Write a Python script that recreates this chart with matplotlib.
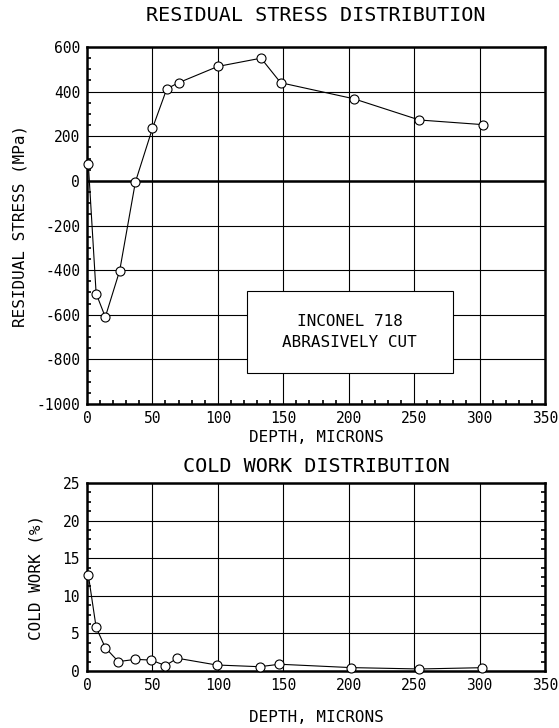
import matplotlib
matplotlib.use("Agg")
import matplotlib.pyplot as plt
from matplotlib.patches import Rectangle
from matplotlib.ticker import AutoMinorLocator

plt.rcParams["axes.unicode_minus"] = False
MONO = ["DejaVu Sans Mono"]

# Residual stress profile (depth in microns, stress in MPa)
stress_depth = [1, 7, 14, 25, 37, 50, 61, 70, 100, 133, 148, 204, 254, 303]
stress_mpa = [78, -505, -610, -402, -5, 235, 413, 440, 513, 550, 440, 368, 273, 252]

# Cold work profile (depth in microns, cold work in %)
cw_depth = [1, 7, 14, 24, 37, 49, 60, 69, 99, 132, 147, 202, 254, 302]
cw_pct = [12.8, 5.8, 3.1, 1.25, 1.55, 1.45, 0.72, 1.7, 0.8, 0.57, 0.9, 0.45, 0.27, 0.44]

x_ticks = [0, 50, 100, 150, 200, 250, 300, 350]
stress_ticks = [-1000, -800, -600, -400, -200, 0, 200, 400, 600]
cw_ticks = [0, 5, 10, 15, 20, 25]

fig = plt.figure(figsize=(5.59, 7.28), dpi=100)
ax1 = fig.add_axes([0.1556, 0.445, 0.8193, 0.4904])
ax2 = fig.add_axes([0.1556, 0.0783, 0.8193, 0.2582])

line_kw = dict(color="black", lw=0.8, marker="o", ms=6.5,
               mfc="white", mec="black", mew=0.8, zorder=5, clip_on=False)

for ax in (ax1, ax2):
    ax.set_xlim(0, 350)
    ax.set_xticks(x_ticks)
    ax.grid(True, which="major", color="black", lw=0.8)
    ax.set_axisbelow(True)
    for sp in ax.spines.values():
        sp.set_linewidth(1.8)
    ax.tick_params(which="major", length=0, pad=5, labelsize=10.5)
    ax.tick_params(which="minor", direction="in", length=3, width=1.2)

# Upper panel: residual stress
ax1.set_ylim(-1000, 600)
ax1.set_yticks(stress_ticks)
ax1.yaxis.set_minor_locator(AutoMinorLocator(4))
ax1.xaxis.set_minor_locator(AutoMinorLocator(5))
ax1.tick_params(which="minor", left=True, bottom=True, right=False, top=False)
ax1.axhline(0, color="black", lw=1.8, zorder=1)
ax1.plot(stress_depth, stress_mpa, **line_kw)
ax1.set_title("RESIDUAL STRESS DISTRIBUTION", family=MONO, fontsize=14.5, pad=18.5)
ax1.set_xlabel("DEPTH, MICRONS", family=MONO, fontsize=11.5, labelpad=3)
ax1.set_ylabel("RESIDUAL STRESS (MPa)", family=MONO, fontsize=11.5, labelpad=6)

# Material note box
ax1.add_patch(Rectangle((0.349, 0.086), 0.4495, 0.2297, transform=ax1.transAxes,
                        fc="white", ec="black", lw=0.8, zorder=6))
ax1.text(0.5735, 0.2017, "INCONEL 718\nABRASIVELY CUT",
         transform=ax1.transAxes, ha="center", va="center",
         family=MONO, fontsize=11.5, linespacing=1.45, zorder=7)

# Lower panel: cold work
ax2.set_ylim(0, 25)
ax2.set_yticks(cw_ticks)
ax2.yaxis.set_minor_locator(AutoMinorLocator(4))
ax2.tick_params(which="minor", left=True, right=True, bottom=False, top=False)
ax2.plot(cw_depth, cw_pct, **line_kw)
ax2.set_title("COLD WORK DISTRIBUTION", family=MONO, fontsize=14.5, pad=8)
ax2.set_xlabel("DEPTH, MICRONS", family=MONO, fontsize=11.5, labelpad=12)
ax2.set_ylabel("COLD WORK (%)", family=MONO, fontsize=11.5, labelpad=14)

for ax in (ax1, ax2):
    for lab in ax.get_xticklabels() + ax.get_yticklabels():
        lab.set_family(MONO)

fig.savefig("out.png", dpi=100)
